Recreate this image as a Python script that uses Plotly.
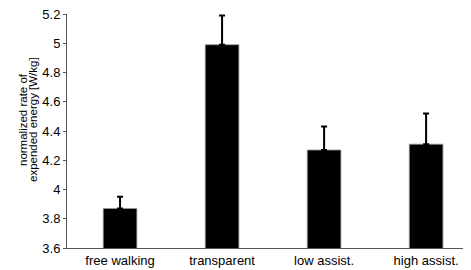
import plotly.graph_objects as go

categories = ["free walking", "transparent", "low assist.", "high assist."]
values = [3.87, 4.99, 4.27, 4.31]
errors = [0.08, 0.20, 0.16, 0.21]
y_ticks = [3.6, 3.8, 4.0, 4.2, 4.4, 4.6, 4.8, 5.0, 5.2]
y_tick_labels = ["3.6", "3.8", "4", "4.2", "4.4", "4.6", "4.8", "5", "5.2"]
y_title_lines = ["normalized rate of", "expended energy [W/kg]"]

fig = go.Figure()
fig.add_trace(go.Bar(
    x=list(range(len(categories))),
    y=values,
    width=0.33,
    marker=dict(color="black", line=dict(color="#999999", width=0.8)),
    error_y=dict(type="data", array=errors, symmetric=False, arrayminus=[0]*4,
                 color="black", thickness=2, width=3),
))

title_annotations = [
    dict(text=line, textangle=-90, showarrow=False,
         xref="paper", yref="paper", x=0, y=0.547,
         xanchor="center", yanchor="middle", xshift=shift,
         font=dict(size=11.5, color="black"))
    for line, shift in zip(y_title_lines, [-44, -34])
]

# page body has an 8px default margin, so the figure is sized to fit the window
fig.update_layout(
    width=463, height=262,
    margin=dict(l=59, r=0, t=6, b=22),
    plot_bgcolor="white", paper_bgcolor="white",
    showlegend=False,
    font=dict(family="Liberation Sans, Arial, sans-serif", size=13, color="black"),
    xaxis=dict(
        range=[-0.52, 3.44],
        tickmode="array", tickvals=list(range(len(categories))), ticktext=categories,
        showline=True, linecolor="#555555", linewidth=1,
        ticks="", showgrid=False, zeroline=False,
        tickfont=dict(size=13),
    ),
    yaxis=dict(
        range=[3.6, 5.2],
        tickmode="array", tickvals=y_ticks, ticktext=y_tick_labels,
        showline=True, linecolor="#555555", linewidth=1,
        ticks="outside", ticklen=3, tickcolor="#555555",
        showgrid=False, zeroline=False,
        tickfont=dict(size=13),
        ticklabeloverflow="allow",
    ),
    annotations=title_annotations,
)

fig.write_html("out.html")
